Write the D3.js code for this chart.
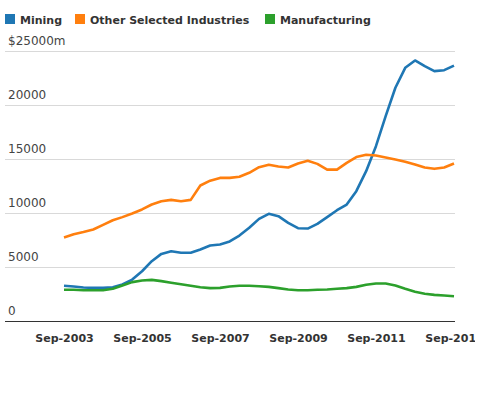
<!DOCTYPE html>
<html>
<head>
<meta charset="utf-8">
<script src="https://cdn.jsdelivr.net/npm/d3@7"></script>
<style>
  body { margin: 0; background: #fff; font-family: "DejaVu Sans", sans-serif; }
  svg { display: block; overflow: hidden; }
  .legend-label { font-size: 11px; font-weight: bold; fill: #333; }
  .y-label { font-size: 12px; fill: #444; }
  .x-axis text { font-size: 11px; font-weight: bold; fill: #333; font-family: "DejaVu Sans", sans-serif; }
</style>
</head>
<body>
<svg id="chart"></svg>
<script>
const seriesNames = ["Mining", "Other Selected Industries", "Manufacturing"];
const seriesColors = ["#1f77b4", "#ff7f0e", "#2ca02c"];

// quarterly, Sep-2003 .. Sep-2013 ($m)
const mining = [
  3220, 3150, 3060, 3030, 3030, 3090, 3340, 3800, 4570, 5500,
  6180, 6430, 6280, 6280, 6590, 6950, 7050, 7330, 7880, 8600,
  9430, 9900, 9680, 9060, 8560, 8530, 8970, 9590, 10230, 10760,
  12000, 13850, 16170, 18950, 21590, 23440, 24120, 23590, 23130, 23220,
  23650
];
const otherIndustries = [
  7700, 8000, 8200, 8440, 8870, 9300, 9590, 9925, 10300, 10760,
  11070, 11190, 11070, 11190, 12520, 12970, 13230, 13230, 13330, 13700,
  14220, 14440, 14290, 14190, 14560, 14810, 14530, 14000, 14000, 14620,
  15160, 15370, 15300, 15120, 14930, 14720, 14470, 14190, 14070, 14190,
  14560
];
const manufacturing = [
  2850, 2850, 2810, 2810, 2810, 2940, 3250, 3560, 3710, 3770,
  3650, 3500, 3370, 3220, 3090, 3000, 3030, 3150, 3220, 3220,
  3180, 3120, 3000, 2880, 2810, 2810, 2850, 2880, 2940, 3000,
  3120, 3310, 3430, 3430, 3250, 2940, 2660, 2480, 2380, 2320,
  2250
];

const yTicks = [0, 5000, 10000, 15000, 20000, 25000];
const xTickYears = [2003, 2005, 2007, 2009, 2011, 2013];

const width = 475;
const height = 400;
const margin = { top: 51, right: 20, bottom: 79, left: 5 };

const quarters = d3.timeMonth.range(new Date(2003, 8, 1), new Date(2013, 9, 1), 3);
const allSeries = [mining, otherIndustries, manufacturing];

const svg = d3.select("#chart").attr("width", width).attr("height", height);

const x = d3.scaleTime()
  .domain([new Date(2003, 8, 1), new Date(2013, 8, 1)])
  .range([64, 454]);

const y = d3.scaleLinear()
  .domain([0, 25000])
  .range([height - margin.bottom - 0.5, margin.top]);

// gridlines
svg.append("g")
  .selectAll("line")
  .data(yTicks)
  .enter()
  .append("line")
  .attr("x1", margin.left)
  .attr("x2", 455)
  .attr("y1", (d) => Math.round(y(d)) + 0.5)
  .attr("y2", (d) => Math.round(y(d)) + 0.5)
  .attr("stroke", (d) => d === 0 ? "#333" : "#d9d9d9")
  .attr("stroke-width", 1);

// y labels sit above their gridline
svg.append("g")
  .selectAll("text")
  .data(yTicks)
  .enter()
  .append("text")
  .attr("class", "y-label")
  .attr("x", 8)
  .attr("y", (d) => y(d) - 6)
  .text((d) => d === 25000 ? "$" + d + "m" : d);

// x axis labels
svg.append("g")
  .attr("class", "x-axis")
  .attr("transform", `translate(0, ${y(0)})`)
  .call(d3.axisBottom(x)
    .tickValues(xTickYears.map((yr) => new Date(yr, 8, 1)))
    .tickSize(0)
    .tickPadding(14)
    .tickFormat(d3.timeFormat("%b-%Y")))
  .call((g) => g.select(".domain").remove());

// lines
const line = d3.line()
  .x((d, i) => x(quarters[i]))
  .y((d) => y(d));

svg.append("g")
  .selectAll("path")
  .data(allSeries)
  .enter()
  .append("path")
  .attr("d", line)
  .attr("fill", "none")
  .attr("stroke", (d, i) => seriesColors[i])
  .attr("stroke-width", 2.6)
  .attr("stroke-linejoin", "round");

// legend
const legendX = [5, 75, 265];
const legend = svg.append("g")
  .selectAll("g")
  .data(seriesNames)
  .enter()
  .append("g")
  .attr("transform", (d, i) => `translate(${legendX[i]}, 14)`);

legend.append("rect")
  .attr("width", 10)
  .attr("height", 10)
  .attr("fill", (d, i) => seriesColors[i]);

legend.append("text")
  .attr("class", "legend-label")
  .attr("x", 15)
  .attr("y", 9.5)
  .text((d) => d);
</script>
</body>
</html>
